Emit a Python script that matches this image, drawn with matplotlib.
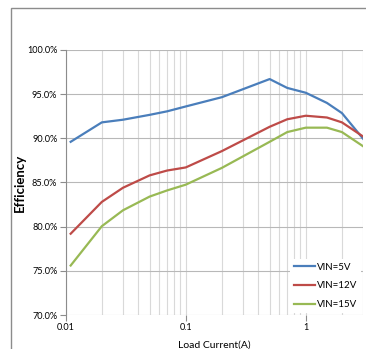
import matplotlib.pyplot as plt
import matplotlib.ticker as mticker
from matplotlib.patches import Rectangle

plt.rcParams['font.family'] = ['Lato', 'DejaVu Sans']

load_current = [0.011, 0.02, 0.03, 0.05, 0.07, 0.1, 0.2, 0.5, 0.7, 1, 1.5, 2, 3]
eff_5v = [89.6, 91.8, 92.1, 92.65, 93.05, 93.6, 94.65, 96.7, 95.7, 95.15, 94.0, 92.85, 89.95]
eff_12v = [79.2, 82.8, 84.4, 85.8, 86.35, 86.7, 88.55, 91.3, 92.15, 92.55, 92.35, 91.8, 90.2]
eff_15v = [75.6, 80.05, 81.85, 83.4, 84.1, 84.75, 86.65, 89.6, 90.7, 91.2, 91.2, 90.7, 89.1]
labels = ['VIN=5V', 'VIN=12V', 'VIN=15V']
colors = ['#4a7ebb', '#be4b48', '#98b954']

fig = plt.figure(figsize=(3.66, 3.49), dpi=100)
ax = fig.add_axes([0.1795, 0.0974, 0.8125, 0.7596])

# outer chart frame
fig.patches.append(Rectangle((11 / 366, -0.1), 1.2, 1 - 8 / 349 + 0.1,
                             transform=fig.transFigure, fill=False,
                             edgecolor='#8c8c8c', linewidth=1.0))

for y, lab, c in zip([eff_5v, eff_12v, eff_15v], labels, colors):
    ax.plot(load_current, y, color=c, linewidth=1.6, label=lab)

ax.set_xscale('log')
ax.set_xlim(0.01, 3)
ax.set_ylim(70, 100)
ax.set_yticks([70, 75, 80, 85, 90, 95, 100])
ax.yaxis.set_major_formatter(mticker.FuncFormatter(lambda v, p: '%.1f%%' % v))
ax.set_xticks([0.01, 0.1, 1])
ax.xaxis.set_major_formatter(mticker.FixedFormatter(['0.01', '0.1', '1']))
ax.xaxis.set_minor_formatter(mticker.NullFormatter())
ax.tick_params(which='minor', length=0)
ax.tick_params(which='major', length=4, color='#8c8c8c', labelsize=6.6, pad=2)

ax.grid(which='major', axis='y', color='#b8b8b8', linewidth=0.8)
ax.grid(which='both', axis='x', color='#d9d9d9', linewidth=0.8)
ax.set_axisbelow(True)

for s in ['top', 'right', 'bottom']:
    ax.spines[s].set_visible(False)
ax.spines['left'].set_color('#8c8c8c')

ax.set_ylabel('Efficiency', fontsize=9.5, fontweight='bold', labelpad=1)
ax.set_xlabel('Load Current(A)', fontsize=7.5, labelpad=6)

leg = ax.legend(loc='lower right', fontsize=7, frameon=True, framealpha=1,
                edgecolor='none', fancybox=False, handlelength=2.2,
                handletextpad=0.2, borderaxespad=0.2, labelspacing=1.0)

fig.savefig('out.png', dpi=100)
